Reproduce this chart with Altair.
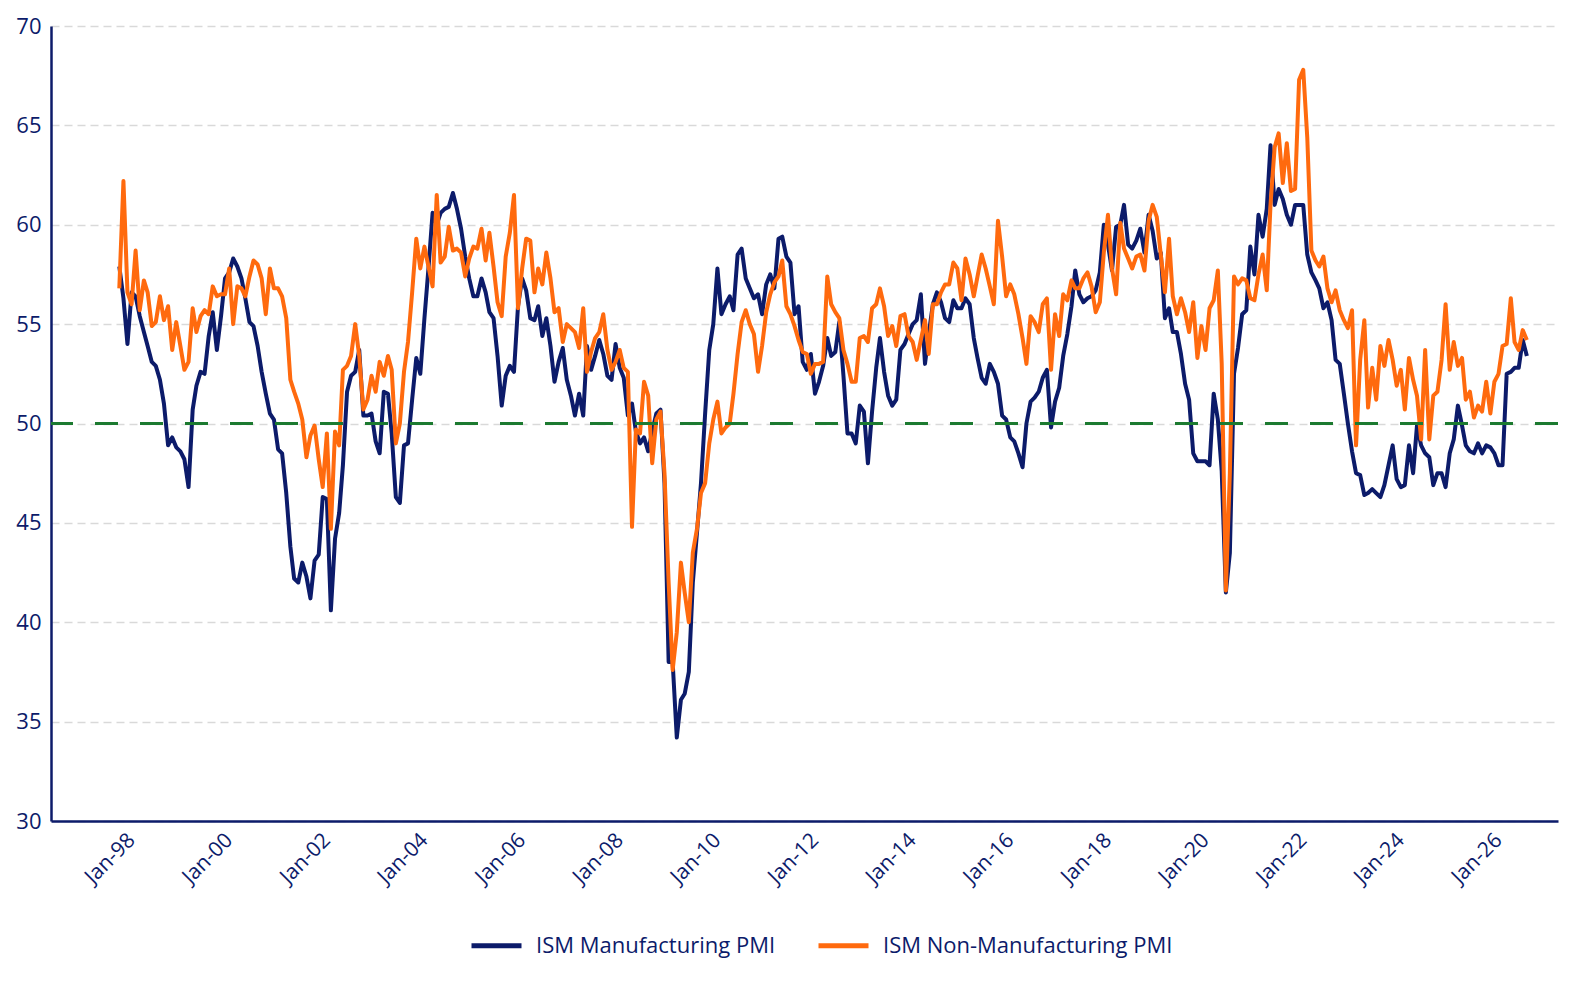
import altair as alt
import pandas as pd

# ISM Manufacturing PMI, monthly from Aug-1997
manufacturing = [
    57.9, 56.3, 54.0, 56.6, 56.4, 55.4, 54.6, 53.9, 53.1, 52.9, 52.2, 51.0,
    48.9, 49.3, 48.8, 48.6, 48.2, 46.8, 50.7, 51.9, 52.6, 52.5, 54.4, 55.6,
    53.7, 55.4, 57.3, 57.6, 58.3, 57.9, 57.3, 56.3, 55.1, 54.9, 53.9, 52.6,
    51.5, 50.5, 50.2, 48.7, 48.5, 46.5, 43.8, 42.2, 42.0, 43.0, 42.3, 41.2,
    43.1, 43.4, 46.3, 46.2, 40.6, 44.2, 45.5, 47.9, 51.6, 52.4, 52.6, 53.7,
    50.4, 50.4, 50.5, 49.1, 48.5, 51.6, 51.5, 49.5, 46.3, 46.0, 48.9, 49.0,
    51.2, 53.3, 52.5, 55.3, 57.8, 60.6, 60.0, 60.6, 60.8, 60.9, 61.6, 60.8,
    59.8, 58.4, 57.3, 56.4, 56.4, 57.3, 56.6, 55.6, 55.3, 53.4, 50.9, 52.4,
    52.9, 52.6, 55.9, 57.3, 56.7, 55.3, 55.2, 55.9, 54.4, 55.3, 53.9, 52.1,
    53.1, 53.8, 52.2, 51.4, 50.4, 51.5, 50.4, 53.9, 52.7, 53.4, 54.2, 53.5,
    52.4, 52.2, 54.0, 52.8, 52.3, 50.4, 51.0, 49.6, 49.0, 49.3, 48.6, 49.6,
    50.5, 50.7, 47.0, 38.0, 38.0, 34.2, 36.1, 36.4, 37.5, 42.0, 44.5, 47.0,
    50.5, 53.7, 55.0, 57.8, 55.5, 56.0, 56.4, 55.7, 58.5, 58.8, 57.3, 56.8,
    56.3, 56.5, 55.5, 57.0, 57.5, 56.8, 59.3, 59.4, 58.4, 58.1, 55.5, 55.9,
    53.1, 52.7, 53.5, 51.5, 52.1, 52.9, 54.3, 53.4, 53.6, 55.1, 52.4, 49.5,
    49.5, 49.0, 50.9, 50.6, 48.0, 50.6, 52.8, 54.3, 52.6, 51.4, 50.9, 51.2,
    53.7, 54.0, 54.5, 55.0, 55.2, 56.5, 53.0, 54.5, 56.0, 56.6, 56.1, 55.3,
    55.1, 56.2, 55.8, 55.8, 56.3, 56.0, 54.3, 53.3, 52.3, 52.0, 53.0, 52.6,
    52.0, 50.4, 50.2, 49.3, 49.1, 48.5, 47.8, 50.0, 51.1, 51.3, 51.6, 52.3,
    52.7, 49.8, 51.1, 51.8, 53.4, 54.5, 55.9, 57.7, 56.5, 56.1, 56.3, 56.4,
    56.7, 57.6, 60.0, 59.0, 57.7, 59.9, 60.0, 61.0, 59.0, 58.8, 59.2, 59.8,
    58.6, 60.5, 59.7, 58.3, 58.6, 55.3, 55.8, 54.6, 54.6, 53.5, 52.0, 51.2,
    48.5, 48.1, 48.1, 48.1, 47.9, 51.5, 50.2, 47.6, 41.5, 43.5, 52.5, 53.8,
    55.5, 55.7, 58.9, 57.5, 60.5, 59.4, 60.8, 64.0, 61.0, 61.8, 61.3, 60.5,
    60.0, 61.0, 61.0, 61.0, 58.5, 57.6, 57.2, 56.8, 55.8, 56.1, 55.2, 53.2,
    53.0, 51.5, 50.0, 48.6, 47.5, 47.4, 46.4, 46.5, 46.7, 46.5, 46.3, 46.9,
    47.9, 48.9, 47.2, 46.8, 46.9, 48.9, 47.5, 49.9, 48.9, 48.5, 48.3, 46.9,
    47.5, 47.5, 46.8, 48.5, 49.2, 50.9, 49.9, 48.9, 48.6, 48.5, 49.0, 48.5,
    48.9, 48.8, 48.5, 47.9, 47.9, 52.5, 52.6, 52.8, 52.8, 54.2, 53.4,
]

# ISM Non-Manufacturing PMI, monthly from Aug-1997
non_manufacturing = [
    56.8, 62.2, 56.6, 56.0, 58.7, 55.7, 57.2, 56.6, 54.9, 55.1, 56.4, 55.2,
    55.9, 53.7, 55.1, 53.9, 52.7, 53.1, 55.8, 54.6, 55.4, 55.7, 55.5, 56.9,
    56.4, 56.5, 56.5, 57.8, 55.0, 56.9, 56.8, 56.4, 57.4, 58.2, 58.0, 57.3,
    55.5, 57.8, 56.8, 56.8, 56.4, 55.3, 52.2, 51.6, 51.0, 50.2, 48.3, 49.4,
    49.9, 48.2, 46.8, 49.5, 44.7, 49.6, 48.9, 52.7, 52.9, 53.4, 55.0, 53.4,
    50.7, 51.2, 52.4, 51.6, 53.1, 52.4, 53.4, 52.7, 49.0, 50.0, 52.6, 54.1,
    56.6, 59.3, 57.8, 58.9, 57.9, 56.9, 61.5, 58.1, 58.4, 59.9, 58.7, 58.8,
    58.6, 57.4, 58.3, 58.9, 58.8, 59.8, 58.2, 59.6, 57.9, 56.1, 55.4, 58.4,
    59.6, 61.5, 55.8, 57.8, 59.3, 59.2, 56.6, 57.8, 57.0, 58.6, 57.3, 55.6,
    55.8, 54.1, 55.0, 54.8, 54.6, 53.8, 55.8, 52.6, 53.6, 54.3, 54.6, 55.5,
    53.7, 52.7, 53.1, 53.7, 52.8, 52.6, 44.8, 49.7, 49.5, 52.1, 51.4, 48.0,
    50.2, 50.6, 47.5, 42.0, 37.6, 39.5, 43.0, 41.5, 40.0, 43.5, 44.7, 46.5,
    47.0, 49.0, 50.2, 51.1, 49.5, 49.8, 50.0, 51.5, 53.5, 55.1, 55.7, 55.0,
    54.5, 52.6, 53.9, 55.6, 56.5, 57.1, 57.4, 58.2, 55.9, 55.5, 54.9, 54.2,
    53.6, 53.5, 52.5, 53.0, 53.0, 53.1, 57.4, 56.0, 55.6, 55.3, 53.7, 53.0,
    52.1, 52.1, 54.3, 54.4, 54.1, 55.8, 56.0, 56.8, 55.9, 54.4, 54.9, 53.9,
    55.4, 55.5, 54.4, 54.1, 53.2, 54.2, 55.2, 53.5, 56.0, 56.0, 56.6, 57.0,
    57.0, 58.1, 57.8, 56.2, 58.3, 57.5, 56.4, 57.4, 58.5, 57.8, 56.9, 56.0,
    60.2, 58.4, 56.4, 57.0, 56.5, 55.5, 54.3, 53.0, 55.4, 55.1, 54.6, 56.0,
    56.3, 52.7, 55.5, 54.4, 56.5, 56.2, 57.2, 56.8, 56.8, 57.3, 57.6, 56.9,
    55.6, 56.1, 58.6, 60.5, 57.8, 56.5, 60.1, 58.8, 58.3, 57.8, 58.4, 58.5,
    57.7, 60.2, 61.0, 60.4, 58.5, 56.6, 59.3, 56.4, 55.5, 56.3, 55.6, 54.6,
    56.1, 53.3, 54.9, 53.7, 55.8, 56.2, 57.7, 53.0, 41.6, 47.5, 57.4, 57.0,
    57.3, 57.2, 56.3, 56.2, 57.5, 58.5, 56.7, 61.0, 63.9, 64.6, 62.1, 64.1,
    61.7, 61.8, 67.3, 67.8, 64.4, 58.7, 58.2, 57.9, 58.4, 56.8, 56.1, 56.7,
    55.7, 55.2, 54.8, 55.7, 48.9, 53.2, 55.2, 50.8, 52.8, 51.2, 53.9, 52.9,
    54.2, 53.2, 51.9, 52.7, 50.7, 53.3, 52.2, 51.4, 49.2, 53.7, 49.2, 51.4,
    51.6, 53.2, 56.0, 52.7, 54.1, 52.9, 53.3, 51.2, 51.6, 50.3, 50.9, 50.6,
    52.1, 50.5, 52.1, 52.5, 53.9, 54.0, 56.3, 54.1, 53.7, 54.7, 54.2,
]

series_names = ["ISM Manufacturing PMI", "ISM Non-Manufacturing PMI"]
tick_years = list(range(1998, 2027, 2))
y_ticks = [30, 35, 40, 45, 50, 55, 60, 65, 70]
threshold = [50]

months = pd.date_range("1997-08-01", periods=len(manufacturing), freq="MS")
month_str = months.strftime("%Y-%m-%dT00:00:00").tolist()

df = pd.DataFrame({
    "date": month_str + month_str,
    "value": manufacturing + non_manufacturing,
    "series": [series_names[0]] * len(manufacturing) + [series_names[1]] * len(non_manufacturing),
})

NAVY = "#0c1b6a"
ORANGE = "#ff6a0e"
GREEN = "#1c7a30"
FONT = "Open Sans"

x_enc = alt.X(
    "date:T",
    scale=alt.Scale(domain=[alt.DateTime(year=1996, month=3, date=8),
                            alt.DateTime(year=2027, month=1, date=20)], nice=False),
    axis=alt.Axis(
        values=[alt.DateTime(year=y, month=1, date=1) for y in tick_years],
        format="%b-%y", labelAngle=-45, labelFont=FONT, labelFontSize=21,
        labelColor=NAVY, domainColor=NAVY, domainWidth=2.5, ticks=False,
        grid=False, title=None, labelPadding=8, labelOffset=-16,
    ),
)
y_enc = alt.Y(
    "value:Q",
    scale=alt.Scale(domain=[30, 70], nice=False, zero=False),
    axis=alt.Axis(
        values=y_ticks, labelFont=FONT, labelFontSize=22, labelColor=NAVY,
        domainColor=NAVY, domainWidth=2.5, ticks=False, grid=True,
        gridDash=[8, 5], gridColor="#d9d9d9", gridWidth=1.5, title=None,
        labelPadding=10,
    ),
)
color_enc = alt.Color(
    "series:N",
    scale=alt.Scale(domain=series_names, range=[NAVY, ORANGE]),
    legend=alt.Legend(
        title=None, orient="none", legendX=418, legendY=892,
        direction="horizontal", symbolType="stroke", symbolSize=2500,
        symbolStrokeWidth=5, labelFont=FONT, labelFontSize=22, labelLimit=0,
        labelColor=NAVY, labelOffset=12, columnPadding=32, padding=0,
    ),
)

base = alt.Chart(df)
line_m = base.transform_filter(alt.datum.series == series_names[0]).mark_line(
    strokeWidth=4, strokeJoin="round").encode(x=x_enc, y=y_enc, color=color_enc)
line_n = base.transform_filter(alt.datum.series == series_names[1]).mark_line(
    strokeWidth=4, strokeJoin="round").encode(x=x_enc, y=y_enc, color=color_enc)
rule = alt.Chart(pd.DataFrame({"v": threshold})).mark_rule(
    color=GREEN, strokeWidth=3, strokeDash=[23, 22]).encode(y=alt.Y("v:Q"))

chart = alt.layer(line_m, line_n, rule).properties(
    width=1507, height=795,
    padding={"left": 15, "top": 15, "right": 10, "bottom": 10},
    background="#ffffff",
).configure_view(strokeWidth=0)

chart.save("out.html", embed_options={"renderer": "svg", "actions": False})
